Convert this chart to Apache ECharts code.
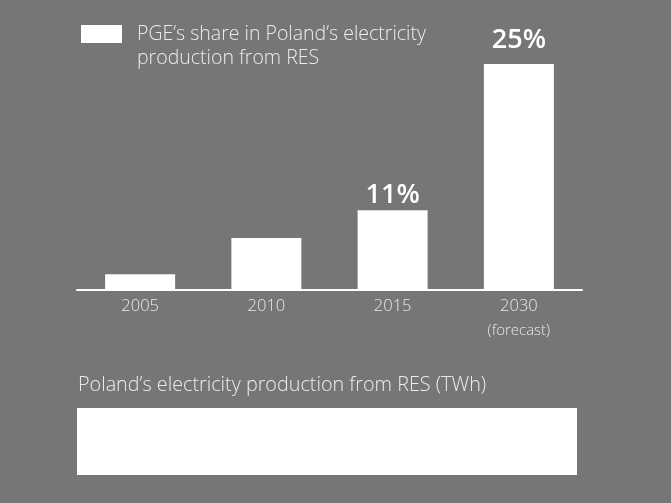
<!DOCTYPE html>
<html>
<head>
<meta charset="utf-8">
<script src="https://cdn.jsdelivr.net/npm/echarts@6/dist/echarts.min.js"></script>
<style>
html,body{margin:0;padding:0;background:#767676;}
#c{width:671px;height:503px;}
</style>
</head>
<body>
<div id="c"></div>
<script>
var categories = ["2005", "2010", "2015", "2030"];
var categorySubLabels = ["", "", "", "(forecast)"];
var shareValues = [1.7, 5.7, 8.8, 25];
var shareLabels = ["", "", "11%", "25%"];
var seriesName = "PGE\u2019s share in Poland\u2019s electricity\nproduction from RES";
var bottomTitle = "Poland\u2019s electricity production from RES (TWh)";

var FONT = "'Open Sans', 'DejaVu Sans', sans-serif";
var labelDistances = [6, 6, 1.5, 10];
var chart = echarts.init(document.getElementById('c'));
chart.setOption({
  backgroundColor: '#767676',
  animation: false,
  title: {
    text: bottomTitle,
    left: 73,
    top: 370,
    textStyle: {color: '#ececec', fontSize: 19.8, fontWeight: 300, fontFamily: FONT}
  },
  legend: {
    left: 81,
    top: -2,
    padding: 0,
    itemWidth: 41,
    itemHeight: 18,
    itemGap: 15,
    icon: 'rect',
    selectedMode: false,
    data: [seriesName],
    formatter: function (name) {
      return '{sp| }\n' + name.split('\n').map(function (l) { return '{t|' + l + '}'; }).join('\n');
    },
    textStyle: {
      color: '#ececec', fontSize: 19.5, fontWeight: 300, fontFamily: FONT, lineHeight: 24,
      rich: {
        sp: {fontSize: 10, lineHeight: 24},
        t: {color: '#ececec', fontSize: 19.5, fontWeight: 300, fontFamily: FONT, lineHeight: 24, padding: [0, 0, 0, 10]}
      }
    }
  },
  grid: {left: 77, right: 89, top: 19, bottom: 213.5},
  xAxis: {
    type: 'category',
    data: categories.map(function (c, i) { return categorySubLabels[i] ? c + '\n' + categorySubLabels[i] : c; }),
    axisLine: {show: true, lineStyle: {color: '#ffffff', width: 2}},
    axisTick: {show: false},
    axisLabel: {
      margin: 4,
      interval: 0,
      color: '#e8e8e8',
      fontFamily: FONT,
      fontWeight: 300,
      fontSize: 16.5,
      lineHeight: 25,
      formatter: function (v) {
        var parts = v.split('\n');
        if (parts.length > 1) return '{a|' + parts[0] + '}\n{b|' + parts[1] + '}';
        return '{a|' + parts[0] + '}';
      },
      rich: {
        a: {fontSize: 16.5, lineHeight: 25, color: '#e8e8e8', fontFamily: FONT, fontWeight: 300},
        b: {fontSize: 15, lineHeight: 25, color: '#e8e8e8', fontFamily: FONT, fontWeight: 300}
      }
    }
  },
  yAxis: {type: 'value', min: 0, max: 30, show: false, splitLine: {show: false}},
  series: [{
    name: seriesName,
    type: 'bar',
    barWidth: 70,
    itemStyle: {color: '#ffffff'},
    data: shareValues.map(function (v, i) { return {value: v, label: {distance: labelDistances[i]}}; }),
    label: {
      show: true,
      position: 'top',
      distance: 6,
      color: '#ffffff',
      fontFamily: FONT,
      fontWeight: 600,
      fontSize: 27,
      formatter: function (p) { return shareLabels[p.dataIndex]; }
    }
  }],
  graphic: [{
    type: 'rect',
    shape: {x: 77, y: 408, width: 500, height: 67},
    style: {fill: '#ffffff'}
  }]
});
</script>
</body>
</html>
